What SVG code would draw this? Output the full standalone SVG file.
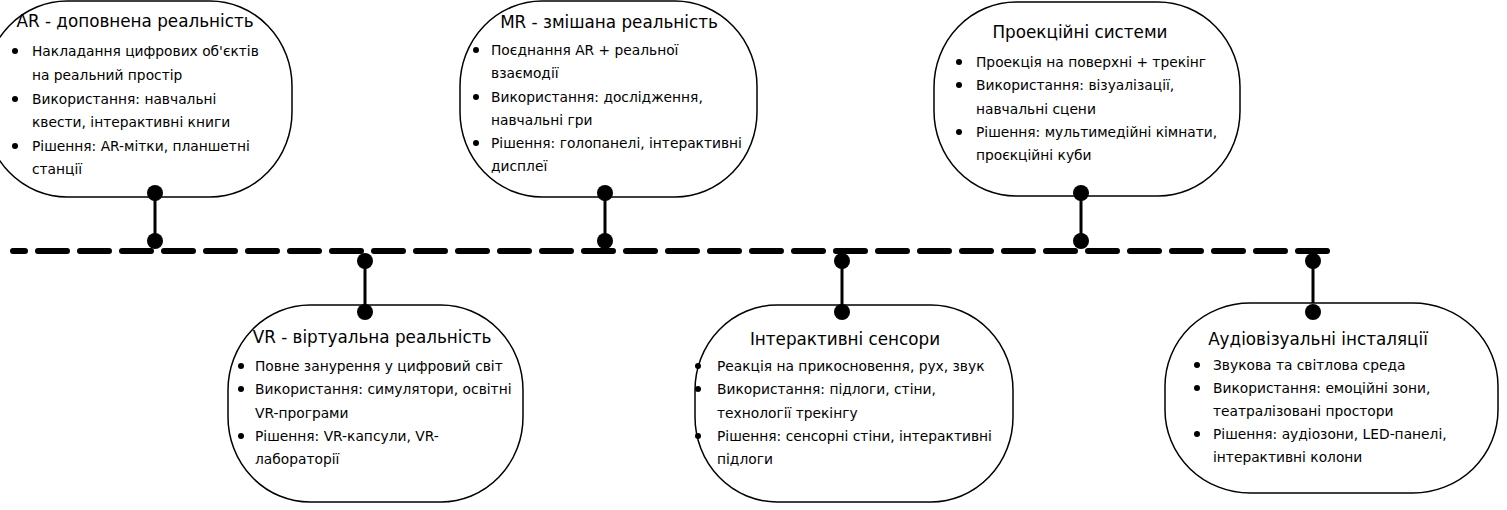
<svg xmlns="http://www.w3.org/2000/svg" width="1507" height="510" viewBox="0 0 1507 510">
<style>
.node{fill:#fff;stroke:#000;stroke-width:1.5}
.t{font-family:"DejaVu Sans","Liberation Sans",sans-serif;font-size:16.8px;fill:#000;text-anchor:middle}
.b{font-family:"DejaVu Sans","Liberation Sans",sans-serif;font-size:13.8px;fill:#000}
.dot{fill:#000}
.spine{fill:none;stroke:#000;stroke-width:6;stroke-linecap:round;stroke-dasharray:29 13;stroke-dashoffset:17}
.stem{stroke:#000;stroke-width:3}
.pin{fill:#000}
</style>
<rect width="1507" height="510" fill="#fff"/>
<g id="connectors">
<line class="spine" x1="13" y1="251" x2="1327" y2="251"/>
<line class="stem" x1="155" y1="193" x2="155" y2="241"/>
<line class="stem" x1="605" y1="193" x2="605" y2="241"/>
<line class="stem" x1="1081" y1="193" x2="1081" y2="241"/>
<line class="stem" x1="365" y1="261" x2="365" y2="312"/>
<line class="stem" x1="842" y1="261" x2="842" y2="312"/>
<line class="stem" x1="1313" y1="261" x2="1313" y2="312"/>
</g>
<g id="node-ar">
<rect class="node" x="-15" y="1" width="307" height="196" rx="82" ry="85"/>
<text class="t" x="135" y="27">AR - доповнена реальність</text>
<circle class="dot" cx="15" cy="51" r="3"/>
<text class="b" x="32" y="56">Накладання цифрових об'єктів</text>
<text class="b" x="32" y="80">на реальний простір</text>
<circle class="dot" cx="15" cy="99" r="3"/>
<text class="b" x="32" y="104">Використання: навчальні</text>
<text class="b" x="32" y="127">квести, інтерактивні книги</text>
<circle class="dot" cx="15" cy="146" r="3"/>
<text class="b" x="32" y="151">Рішення: AR-мітки, планшетні</text>
<text class="b" x="32" y="174">станції</text>
</g>
<g id="node-mr">
<rect class="node" x="460" y="1" width="297" height="196" rx="82" ry="85"/>
<text class="t" x="609" y="28">MR - змішана реальність</text>
<circle class="dot" cx="476" cy="50" r="3"/>
<text class="b" x="491" y="55">Поєднання AR + реальної</text>
<text class="b" x="491" y="78">взаємодії</text>
<circle class="dot" cx="476" cy="97" r="3"/>
<text class="b" x="491" y="102">Використання: дослідження,</text>
<text class="b" x="491" y="125">навчальні гри</text>
<circle class="dot" cx="476" cy="143" r="3"/>
<text class="b" x="491" y="148">Рішення: голопанелі, інтерактивні</text>
<text class="b" x="491" y="171">дисплеї</text>
</g>
<g id="node-proj">
<rect class="node" x="934" y="2" width="306" height="194" rx="82" ry="85"/>
<text class="t" x="1080" y="38">Проекційні системи</text>
<circle class="dot" cx="959" cy="62" r="3"/>
<text class="b" x="976" y="67">Проекція на поверхні + трекінг</text>
<circle class="dot" cx="959" cy="85" r="3"/>
<text class="b" x="976" y="90">Використання: візуалізації,</text>
<text class="b" x="976" y="114">навчальні сцени</text>
<circle class="dot" cx="959" cy="132" r="3"/>
<text class="b" x="976" y="137">Рішення: мультимедійні кімнати,</text>
<text class="b" x="976" y="160">проєкційні куби</text>
</g>
<g id="node-vr">
<rect class="node" x="228" y="305" width="295" height="197" rx="82" ry="85"/>
<text class="t" x="372" y="343">VR - віртуальна реальність</text>
<circle class="dot" cx="241" cy="366" r="3"/>
<text class="b" x="255" y="371">Повне занурення у цифровий світ</text>
<circle class="dot" cx="241" cy="389" r="3"/>
<text class="b" x="255" y="394">Використання: симулятори, освітні</text>
<text class="b" x="255" y="418">VR-програми</text>
<circle class="dot" cx="241" cy="436" r="3"/>
<text class="b" x="255" y="441">Рішення: VR-капсули, VR-</text>
<text class="b" x="255" y="464">лабораторії</text>
</g>
<g id="node-sensors">
<rect class="node" x="695" y="305" width="318" height="197" rx="82" ry="85"/>
<text class="t" x="845" y="345">Інтерактивні сенсори</text>
<circle class="dot" cx="698" cy="366" r="3"/>
<text class="b" x="717" y="371">Реакція на прикосновення, рух, звук</text>
<circle class="dot" cx="698" cy="389" r="3"/>
<text class="b" x="717" y="394">Використання: підлоги, стіни,</text>
<text class="b" x="717" y="418">технології трекінгу</text>
<circle class="dot" cx="698" cy="436" r="3"/>
<text class="b" x="717" y="441">Рішення: сенсорні стіни, інтерактивні</text>
<text class="b" x="717" y="464">підлоги</text>
</g>
<g id="node-audio">
<rect class="node" x="1165" y="303" width="333" height="190" rx="85" ry="83"/>
<text class="t" x="1318" y="345">Аудіовізуальні інсталяції</text>
<circle class="dot" cx="1197" cy="365" r="3"/>
<text class="b" x="1213" y="370">Звукова та світлова среда</text>
<circle class="dot" cx="1197" cy="388" r="3"/>
<text class="b" x="1213" y="393">Використання: емоційні зони,</text>
<text class="b" x="1213" y="416">театралізовані простори</text>
<circle class="dot" cx="1197" cy="434" r="3"/>
<text class="b" x="1213" y="439">Рішення: аудіозони, LED-панелі,</text>
<text class="b" x="1213" y="462">інтерактивні колони</text>
</g>
<g id="pins">
<circle class="pin" cx="155" cy="193" r="8"/>
<circle class="pin" cx="155" cy="241" r="8"/>
<circle class="pin" cx="605" cy="193" r="8"/>
<circle class="pin" cx="605" cy="241" r="8"/>
<circle class="pin" cx="1081" cy="193" r="8"/>
<circle class="pin" cx="1081" cy="241" r="8"/>
<circle class="pin" cx="365" cy="261" r="8"/>
<circle class="pin" cx="365" cy="312" r="8"/>
<circle class="pin" cx="842" cy="261" r="8"/>
<circle class="pin" cx="842" cy="312" r="8"/>
<circle class="pin" cx="1313" cy="261" r="8"/>
<circle class="pin" cx="1313" cy="312" r="8"/>
</g>
</svg>
